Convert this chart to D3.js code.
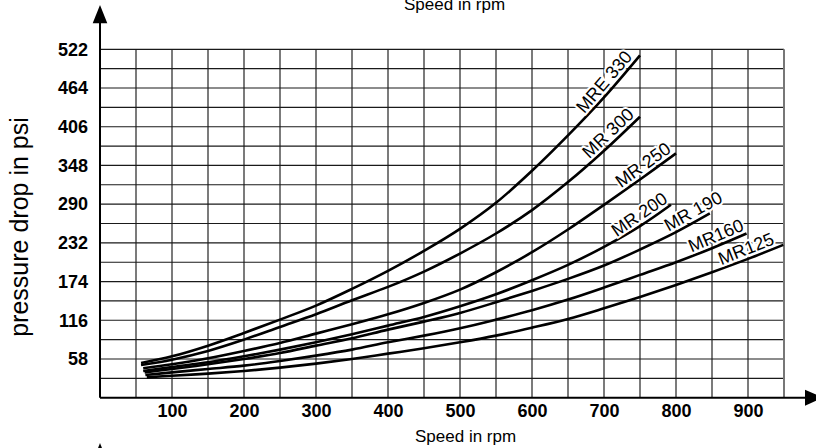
<!DOCTYPE html>
<html><head><meta charset="utf-8">
<script src="https://cdn.jsdelivr.net/npm/d3@7"></script>
<style>body{margin:0;background:#fff}svg{display:block}</style>
</head><body>
<svg id="c" width="816" height="448"></svg>
<script>
// ---- data ----
const xTicks = [100, 200, 300, 400, 500, 600, 700, 800, 900];
const yTicks = [58, 116, 174, 232, 290, 348, 406, 464, 522];
const seriesNames = ["MRE 330", "MR 300", "MR 250", "MR 200", "MR 190", "MR160", "MR125"];

const rpmMRE330 = [57, 100, 150, 200, 250, 300, 350, 400, 450, 500, 550, 600, 650, 700, 750];
const psiMRE330 = [52, 62, 78, 97, 117, 138, 163, 190, 220, 253, 292, 340, 393, 450, 513];

const rpmMR300 = [57, 100, 150, 200, 250, 300, 350, 400, 450, 500, 550, 600, 650, 700, 750];
const psiMR300 = [49, 57, 70, 87, 106, 125, 146, 166, 189, 216, 246, 281, 323, 370, 421];

const rpmMR250 = [60, 100, 150, 200, 250, 300, 350, 400, 450, 500, 550, 600, 650, 700, 750, 800];
const psiMR250 = [44, 50, 59, 70, 82, 96, 110, 125, 142, 162, 188, 218, 252, 289, 327, 366];

const rpmMR200 = [60, 100, 150, 200, 250, 300, 350, 400, 450, 500, 550, 600, 650, 700, 750, 793];
const psiMR200 = [40, 46, 53, 62, 72, 83, 95, 108, 121, 137, 155, 176, 199, 226, 257, 289];

const rpmMR190 = [62, 100, 150, 200, 250, 300, 350, 400, 450, 500, 550, 600, 650, 700, 750, 800, 847];
const psiMR190 = [38, 43, 50, 58, 67, 78, 89, 102, 114, 127, 143, 160, 178, 198, 222, 248, 276];

const rpmMR160 = [63, 100, 150, 200, 250, 300, 350, 400, 450, 500, 550, 600, 650, 700, 750, 800, 850, 898];
const psiMR160 = [34, 38, 43, 48, 55, 63, 72, 83, 93, 104, 117, 131, 147, 165, 184, 203, 224, 246];

const rpmMR125 = [65, 100, 150, 200, 250, 300, 350, 400, 450, 500, 550, 600, 650, 700, 750, 800, 850, 900, 949];
const psiMR125 = [30.5, 33, 36, 40, 45, 51, 58, 66, 74, 83, 93, 105, 118, 134, 151, 169, 188, 208, 229];

const series = [
  {name: seriesNames[0], rpm: rpmMRE330, psi: psiMRE330},
  {name: seriesNames[1], rpm: rpmMR300, psi: psiMR300},
  {name: seriesNames[2], rpm: rpmMR250, psi: psiMR250},
  {name: seriesNames[3], rpm: rpmMR200, psi: psiMR200},
  {name: seriesNames[4], rpm: rpmMR190, psi: psiMR190},
  {name: seriesNames[5], rpm: rpmMR160, psi: psiMR160},
  {name: seriesNames[6], rpm: rpmMR125, psi: psiMR125}
];

// ---- layout (positions/styles) ----
const labelShift = {"MRE 330": -6, "MR 300": -3, "MR 250": -2, "MR 200": 0, "MR 190": 18, "MR160": 0, "MR125": -7};
const FONT = "'Liberation Sans', Arial, Helvetica, sans-serif";

const svg = d3.select("#c");
const x = d3.scaleLinear().domain([0, 950]).range([100, 784]);
const y = d3.scaleLinear().domain([0, 522]).range([397.7, 49.3]);

// grid
const g = svg.append("g");
g.selectAll("line.h").data(d3.range(29, 523, 29)).join("line")
  .attr("x1", x(0)).attr("x2", x(950)).attr("y1", d => y(d)).attr("y2", d => y(d))
  .attr("stroke", "#1a1a1a").attr("stroke-width", 1.15);
g.selectAll("line.v").data(d3.range(50, 950, 50)).join("line")
  .attr("x1", d => x(d)).attr("x2", d => x(d)).attr("y1", y(0)).attr("y2", y(522))
  .attr("stroke", "#1a1a1a").attr("stroke-width", 1.15);
g.append("line").attr("x1", x(950)).attr("x2", x(950)).attr("y1", y(0)).attr("y2", y(522))
  .attr("stroke", "#777").attr("stroke-width", 2);

// axes lines + arrows
svg.append("line").attr("x1", x(0)).attr("x2", x(0)).attr("y1", y(0)).attr("y2", 20)
  .attr("stroke", "#000").attr("stroke-width", 2);
svg.append("path").attr("d", `M${x(0)},5 L${x(0)-7.3},23.3 L${x(0)+7.3},23.3 Z`).attr("fill", "#000");
svg.append("line").attr("x1", x(0)).attr("x2", 808).attr("y1", y(0)).attr("y2", y(0))
  .attr("stroke", "#000").attr("stroke-width", 2);
svg.append("path").attr("d", `M823,${y(0)} L805,${y(0)-8} L805,${y(0)+8} Z`).attr("fill", "#000");
// clipped arrow of a following chart at the bottom
svg.append("path").attr("d", `M${x(0)},443 L${x(0)-7},461 L${x(0)+7},461 Z`).attr("fill", "#000");

// tick labels via axes
const ya = svg.append("g").attr("transform", `translate(${x(0)},0)`)
  .call(d3.axisLeft(y).tickValues(yTicks).tickSize(0).tickPadding(12));
ya.select(".domain").remove();
ya.selectAll("text").attr("font-family", FONT).attr("font-size", 18).attr("font-weight", "bold").attr("fill", "#000");

const xa = svg.append("g").attr("transform", `translate(0,${y(0)})`)
  .call(d3.axisBottom(x).tickValues(xTicks).tickSize(0).tickPadding(6.3));
xa.select(".domain").remove();
xa.selectAll("text").attr("font-family", FONT).attr("font-size", 18).attr("font-weight", "bold").attr("fill", "#000");

// titles
svg.append("text").attr("x", 404).attr("y", 10).attr("font-family", FONT).attr("font-size", 17)
  .text("Speed in rpm");
svg.append("text").attr("x", 415).attr("y", 442).attr("font-family", FONT).attr("font-size", 17)
  .text("Speed in rpm");
svg.append("text").attr("transform", "translate(27.5,227) rotate(-90)").attr("text-anchor", "middle")
  .attr("font-family", FONT).attr("font-size", 25).text("pressure drop in psi");

// curves
const line = d3.line().x(d => x(d[0])).y(d => y(d[1])).curve(d3.curveCatmullRom.alpha(0.5));
svg.append("g").selectAll("path").data(series).join("path")
  .attr("d", s => line(s.rpm.map((r, i) => [r, s.psi[i]])))
  .attr("fill", "none").attr("stroke", "#000").attr("stroke-width", 2.6);

// labels at curve ends
series.forEach(s => {
  const n = s.rpm.length;
  const x1 = x(s.rpm[n - 2]), y1 = y(s.psi[n - 2]);
  const x2 = x(s.rpm[n - 1]), y2 = y(s.psi[n - 1]);
  const ang = Math.atan2(y2 - y1, x2 - x1) * 180 / Math.PI;
  svg.append("text")
    .attr("transform", `translate(${x2},${y2}) rotate(${ang})`)
    .attr("x", labelShift[s.name]).attr("y", -4)
    .attr("text-anchor", "end")
    .attr("font-family", FONT).attr("font-size", 18)
    .attr("stroke", "#fff").attr("stroke-width", 4).attr("paint-order", "stroke")
    .attr("fill", "#000")
    .text(s.name);
});
</script>
</body></html>
